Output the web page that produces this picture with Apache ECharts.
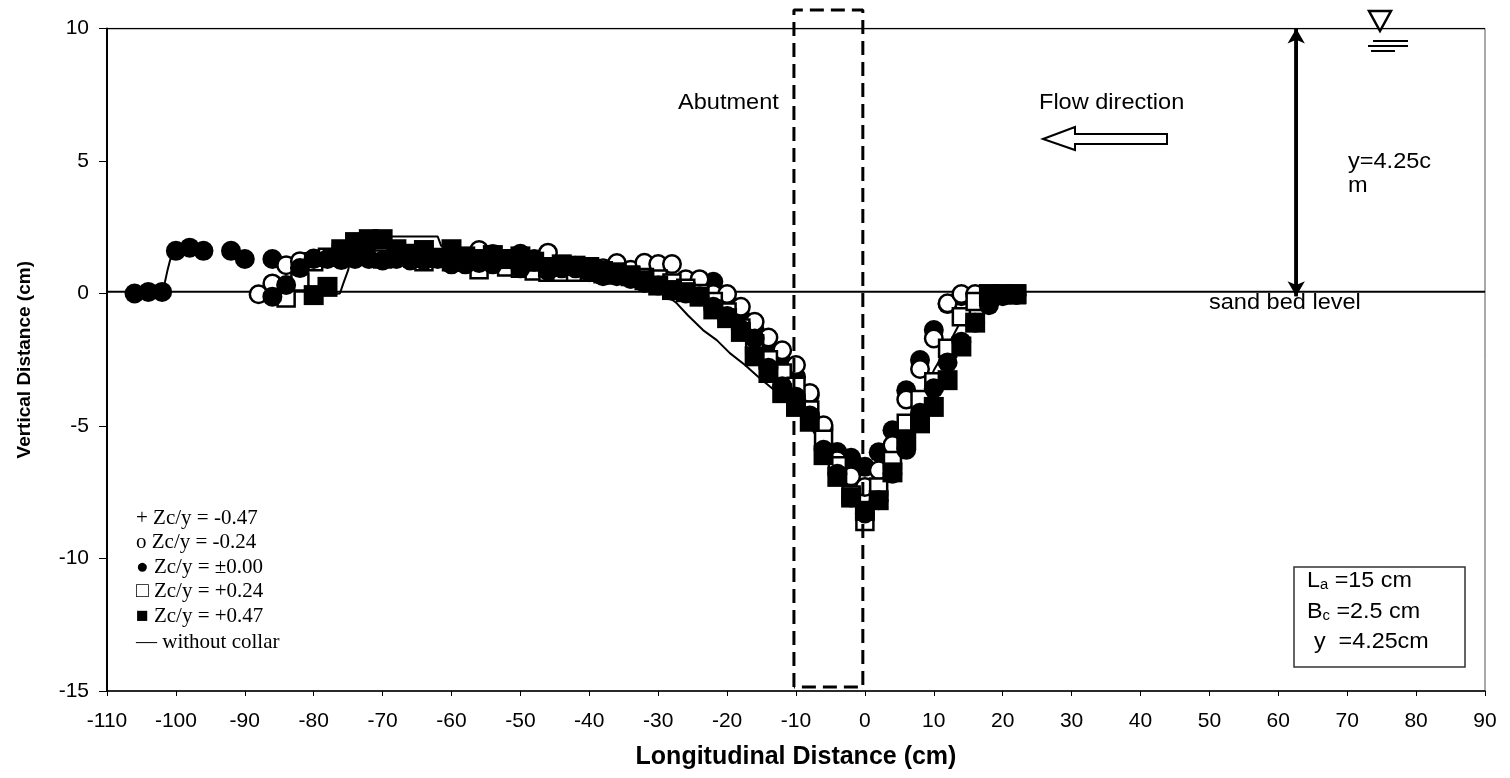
<!DOCTYPE html>
<html>
<head>
<meta charset="utf-8">
<style>html,body{margin:0;padding:0;background:#fff}#c{width:1510px;height:778px}</style>
<script src="https://cdn.jsdelivr.net/npm/echarts@6/dist/echarts.min.js"></script>
</head>
<body>
<div id="c"></div>
<script>
const xTicksMin = -110, xTicksMax = 90, xStep = 10;
const yTicksMin = -15, yTicksMax = 10, yStep = 5;

const circlesZero = [[-106,0],[-104,0.06],[-102,0.06],[-100,1.61],[-98,1.73],[-96,1.61],[-92,1.61],[-90,1.3],[-86,1.3],[-72,1.5],[-60,1.4],[-56,1.3],[-54,1.49],[-50,1.5],[-48,1.3],[-46,1.1],[-44,1.0],[-42,1.0],[-40,0.9],[-38,0.8],[-36,0.7],[-34,0.6],[-32,0.5],[-30,0.4],[-28,0.3],[-26,0.2],[-24,0.3],[-22,0.44],[-20,-0.3],[-18,-0.9],[-16,-1.4],[-14,-2.0],[-12,-2.6],[-10,-3.14],[-8,-3.84],[-6,-5.1],[-4,-5.98],[-2,-6.2],[0,-6.54],[2,-5.99],[4,-5.16],[6,-3.65],[8,-2.51],[10,-1.38],[12,-0.4],[14,-0.1],[16,-0.1],[18,-0.1],[20,-0.05],[22,-0.05]];
const circlesOpen = [[-88,-0.03],[-86,0.38],[-84,1.07],[-82,1.22],[-80,1.32],[-76,1.26],[-74,1.62],[-70,1.55],[-64,1.5],[-60,1.45],[-56,1.64],[-54,1.35],[-52,1.3],[-50,1.2],[-48,1.25],[-46,1.54],[-44,1.05],[-42,1.05],[-40,1.0],[-38,0.95],[-36,1.15],[-34,0.9],[-32,1.16],[-30,1.11],[-28,1.11],[-26,0.54],[-24,0.54],[-22,-0.02],[-20,-0.02],[-18,-0.5],[-16,-1.07],[-14,-1.66],[-12,-2.14],[-10,-2.7],[-8,-3.75],[-6,-4.97],[-4,-6.29],[-2,-6.9],[0,-7.3],[2,-6.67],[4,-5.72],[6,-4.0],[8,-2.85],[10,-1.7],[12,-0.37],[14,-0.02],[16,-0.02]];
const circlesLow = [[-86,-0.12],[-84,0.32],[-82,0.96],[-80,1.3],[-78,1.3],[-76,1.3],[-74,1.3],[-72,1.3],[-70,1.25],[-68,1.3],[-66,1.25],[-64,1.25],[-62,1.3],[-60,1.1],[-58,1.1],[-56,1.15],[-54,1.1],[-52,1.3],[-50,0.95],[-48,1.2],[-46,0.85],[-44,0.95],[-42,0.95],[-40,0.8],[-38,0.65],[-36,0.65],[-34,0.55],[-32,0.4],[-30,0.3],[-28,0.1],[-26,0],[-24,-0.1],[-22,-0.5],[-20,-0.85],[-18,-1.35],[-16,-1.7],[-14,-2.8],[-12,-3.5],[-10,-3.9],[-8,-4.6],[-6,-5.9],[-4,-6.8],[-2,-7.7],[0,-8.3],[2,-7.8],[4,-6.8],[6,-5.9],[8,-4.5],[10,-3.58],[12,-2.6],[14,-1.82],[16,-1.1],[18,-0.44],[20,-0.1],[22,-0.05]];
const squaresOpen = [[-84,-0.17],[-82,0.43],[-80,1.2],[-78,1.37],[-76,1.52],[-74,1.5],[-70,1.3],[-64,1.2],[-60,1.2],[-56,0.9],[-52,1.0],[-50,0.95],[-48,0.85],[-46,0.8],[-44,0.8],[-42,0.8],[-40,0.8],[-38,0.75],[-36,0.7],[-34,0.7],[-32,0.6],[-30,0.55],[-28,0.4],[-26,0.2],[-24,0],[-22,-0.3],[-20,-0.7],[-18,-1.3],[-16,-1.9],[-14,-2.5],[-12,-3.0],[-10,-3.5],[-8,-4.4],[-6,-5.5],[-4,-6.5],[-2,-7.6],[0,-8.6],[2,-7.3],[4,-6.3],[6,-4.9],[8,-4.0],[10,-3.33],[12,-2.07],[14,-0.88],[16,-0.3],[18,-0.1],[20,-0.05],[22,-0.05]];
const squaresSolid = [[-80,-0.06],[-78,0.25],[-76,1.67],[-74,1.94],[-72,2.05],[-70,2.05],[-68,1.67],[-66,1.5],[-64,1.64],[-62,1.35],[-60,1.67],[-58,1.4],[-56,1.3],[-54,1.45],[-52,1.3],[-50,1.4],[-48,1.2],[-46,1.0],[-44,1.1],[-42,1.05],[-40,1.0],[-38,0.85],[-36,0.8],[-34,0.65],[-32,0.5],[-30,0.3],[-28,0.13],[-26,0.05],[-24,-0.12],[-22,-0.6],[-20,-0.93],[-18,-1.45],[-16,-2.37],[-14,-3.0],[-12,-3.76],[-10,-4.28],[-8,-4.84],[-6,-6.1],[-4,-6.92],[-2,-7.7],[0,-8.2],[2,-7.8],[4,-6.75],[6,-5.5],[8,-4.9],[10,-4.28],[12,-3.27],[14,-2.0],[16,-1.1],[18,-0.02],[20,-0.02],[22,-0.02]];
const withoutCollar = [[-79,-0.05],[-76.2,0],[-75.7,0.38],[-75,0.88],[-74.5,1.5],[-72,1.95],[-68.7,2.15],[-62,2.15],[-61.5,1.8],[-60,1.7],[-50,1.2],[-40,0.9],[-32,0.35],[-29.5,0.06],[-27.3,-0.37],[-25.7,-0.82],[-23.5,-1.38],[-21.5,-1.76],[-19.6,-2.25],[-17.4,-2.7],[-15.5,-3.14],[-12,-3.9],[-10,-4.4],[-8,-5],[-6,-5.8],[-4,-6.6],[-2,-7.2],[0,-8.5],[2,-7.7],[4,-6.3],[6,-5.1],[8,-4.1],[10,-2.9],[12,-2.0],[14,-1.0],[16,-0.4],[18,0]];
const riseAtBank = [[-102,0.05],[-101.7,0.3],[-101.2,0.9],[-100.8,1.3],[-100,1.6]];
const abutmentOutline = [[-10.3,-14.85],[-10.3,10.7],[-0.3,10.7],[-0.3,-14.85],[-10.3,-14.85]];
const bedLevel = [[-110,0.07],[90,0.07]];
const waterLevel = [[-110,10],[90,10]];
const depthArrow = [[62.6,10],[62.6,-0.1]];

const legendLines = ['+ Zc/y = -0.47','o Zc/y = -0.24','\u25CF Zc/y = \u00B10.00','\u25A1 Zc/y = +0.24','\u25A0 Zc/y = +0.47','\u2014 without collar'];

const sans = '"Liberation Sans", Arial, sans-serif';
const serif = '"Liberation Serif", "Times New Roman", serif';

function scatter(name, data, symbol, size, open) {
  return {
    name, type: 'line', data, symbol, showSymbol: true, lineStyle: {width: 0},
    symbolSize: size,
    itemStyle: open ? {color: '#fff', borderColor: '#000', borderWidth: 2.5, opacity: 1} : {color: '#000', opacity: 1},
    animation: false, silent: true
  };
}
function plain(name, data, width, extra) {
  return Object.assign({
    name, type: 'line', data, symbol: 'none', lineStyle: {color: '#000', width},
    animation: false, silent: true
  }, extra || {});
}
function label(x, y, text, size, family, stretch) {
  return {type: 'text', x, y, z: 50, scaleX: stretch || 1, style: {text, fill: '#000', font: size + 'px ' + (family || sans), verticalAlign: 'middle'}};
}

const chart = echarts.init(document.getElementById('c'), null, {renderer: 'canvas'});
const graphic = [];
legendLines.forEach((t, i) => graphic.push(label(136, [518,542,567,591,616,642][i], t, 21, serif)));
graphic.push(label(678, 103, 'Abutment', 22, sans, 1.07));
graphic.push(label(1039, 103, 'Flow direction', 22, sans, 1.07));
graphic.push(label(1348, 162, 'y=4.25c', 22, sans, 1.07));
graphic.push(label(1348, 186, 'm', 22, sans, 1.07));
graphic.push(label(1209, 303, 'sand bed level', 22, sans, 1.07));
graphic.push({type: 'rect', z: 49, shape: {x: 1294, y: 567, width: 171, height: 100}, style: {fill: '#fff', stroke: '#333', lineWidth: 1.5}});
const boxRich = {m: {font: '22px ' + sans, fill: '#000'}, s: {font: '14px ' + sans, fill: '#000', verticalAlign: 'bottom', padding: [8,0,0,0]}};
graphic.push({type: 'text', x: 1307, y: 581, z: 50, scaleX: 1.06, style: {text: '{m|L}{s|a}{m| =15 cm}', rich: boxRich, verticalAlign: 'middle'}});
graphic.push({type: 'text', x: 1307, y: 612, z: 50, scaleX: 1.06, style: {text: '{m|B}{s|c}{m| =2.5 cm}', rich: boxRich, verticalAlign: 'middle'}});
graphic.push({type: 'text', x: 1314, y: 642, z: 50, scaleX: 1.06, style: {text: '{m|y  =4.25cm}', rich: boxRich, verticalAlign: 'middle'}});
graphic.push({type: 'polygon', z: 50, shape: {points: [[1043,139],[1075,127],[1075,134],[1167,134],[1167,144],[1075,144],[1075,150]]}, style: {fill: '#fff', stroke: '#000', lineWidth: 2}});
graphic.push({type: 'polygon', z: 50, shape: {points: [[1369,11],[1391,11],[1380,31]]}, style: {fill: '#fff', stroke: '#000', lineWidth: 2.5}});
[[1373,1408,41],[1368,1408,46],[1371,1395,51]].forEach(l => graphic.push({type: 'line', z: 50, shape: {x1: l[0], y1: l[2], x2: l[1], y2: l[2]}, style: {stroke: '#000', lineWidth: 2}}));

chart.setOption({
  animation: false,
  backgroundColor: '#fff',
  grid: {left: 107, right: 25, top: 28.5, bottom: 87, show: true, borderColor: '#555', borderWidth: 1, backgroundColor: 'transparent'},
  xAxis: {
    type: 'value', min: xTicksMin, max: xTicksMax, interval: xStep,
    name: 'Longitudinal Distance (cm)', nameLocation: 'middle', nameGap: 54,
    nameTextStyle: {fontFamily: sans, fontWeight: 'bold', fontSize: 25, color: '#000'},
    axisLine: {onZero: false, lineStyle: {color: '#000', width: 1.5}},
    axisTick: {length: 5, lineStyle: {color: '#000', width: 1}},
    axisLabel: {fontFamily: sans, fontSize: 21, color: '#000', margin: 20, hideOverlap: false, showMinLabel: true, showMaxLabel: true},
    splitLine: {show: false}
  },
  yAxis: {
    type: 'value', min: yTicksMin, max: yTicksMax, interval: yStep,
    name: 'Vertical Distance (cm)', nameLocation: 'middle', nameGap: 73, nameRotate: 90,
    nameTextStyle: {fontFamily: sans, fontWeight: 'bold', fontSize: 19, color: '#000'},
    axisLine: {onZero: false, lineStyle: {color: '#000', width: 2}},
    axisTick: {length: 8, lineStyle: {color: '#000', width: 1}},
    axisLabel: {fontFamily: sans, fontSize: 21, color: '#000', margin: 18},
    splitLine: {show: false}
  },
  series: [
    plain('sand bed', bedLevel, 2),
    plain('water surface', waterLevel, 1.5),
    plain('bank rise', riseAtBank, 2),
    plain('without collar', withoutCollar, 2),
    scatter('Zc/y = 0.00', circlesZero, 'circle', 20, false),
    scatter('Zc/y = -0.24', circlesOpen, 'circle', 17.5, true),
    scatter('Zc/y = +0.24', squaresOpen, 'rect', 17, true),
    scatter('Zc/y = -0.47', circlesLow, 'circle', 20, false),
    scatter('Zc/y = +0.47', squaresSolid, 'rect', 20, false),
    plain('abutment', abutmentOutline, 3, {clip: false, lineStyle: {color: '#000', width: 3, type: [14, 7]}, z: 5}),
    plain('flow depth', depthArrow, 3.5, {z: 6,
      markLine: {silent: true, animation: false, symbol: ['arrow','arrow'], symbolSize: [13,15], label: {show: false},
        lineStyle: {color: '#000', width: 3.5, type: 'solid'},
        data: [[{coord: depthArrow[0]}, {coord: depthArrow[1]}]]}})
  ],
  graphic
});
</script>
</body>
</html>
